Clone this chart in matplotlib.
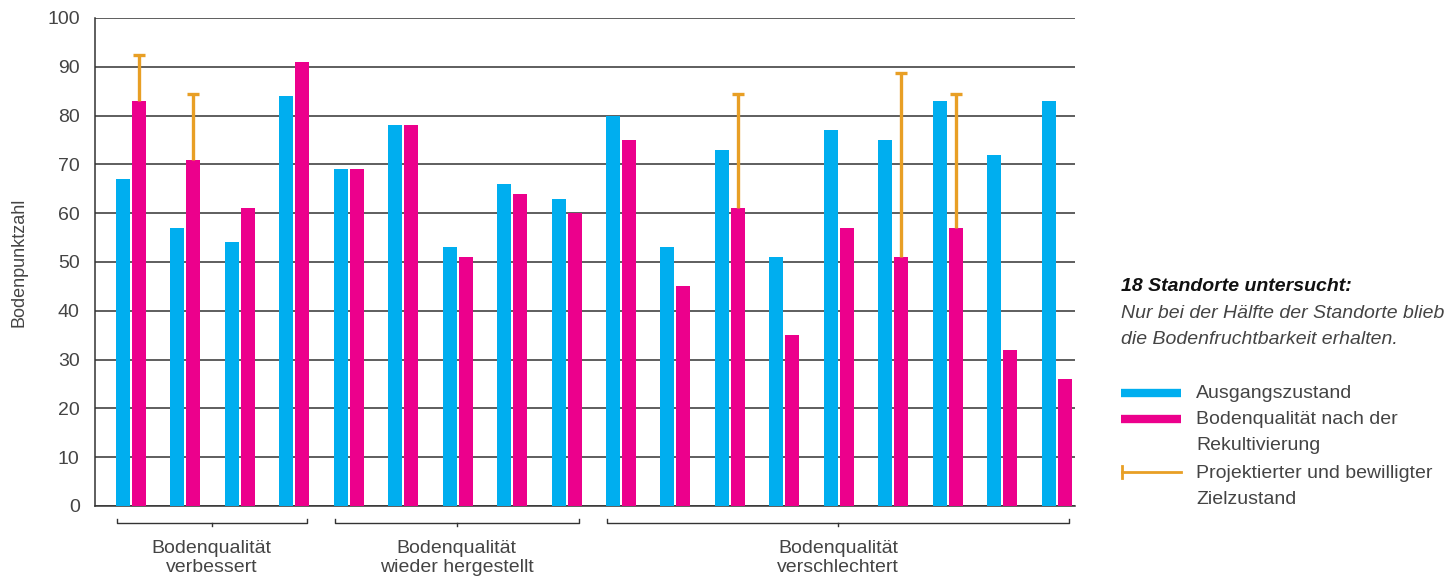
import numpy as np
import matplotlib
matplotlib.use('Agg')
import matplotlib.pyplot as plt
from matplotlib.lines import Line2D

plt.rcParams['font.family'] = ['Liberation Sans', 'DejaVu Sans']

# Ausgangszustand / nach Rekultivierung, 18 Standorte
ausgang = [67, 57, 54, 84, 69, 78, 53, 66, 63, 80, 53, 73, 51, 77, 75, 83, 72, 83]
nachher = [83, 71, 61, 91, 69, 78, 51, 64, 60, 75, 45, 61, 35, 57, 51, 57, 32, 26]
# projektierter Zielzustand (nur wo vorhanden)
ziel_idx = [0, 1, 11, 14, 15]
ziel = [92.5, 84.5, 84.5, 88.8, 84.5]

gruppen = ['Bodenqualität\nverbessert', 'Bodenqualität\nwieder hergestellt', 'Bodenqualität\nverschlechtert']
gruppen_von = [0, 4, 9]
gruppen_bis = [3, 8, 17]

blau = '#00AEEF'
pink = '#EC008C'
orange = '#E89F25'
grau = '#333333'
text_grau = '#444444'

fig = plt.figure(figsize=(14.49, 5.79), dpi=100)
ax = fig.add_axes([95/1449, 73/579, 980/1449, 488/579])

x = np.arange(len(ausgang))
w = 0.257
x_b = x + 0.386 + w/2
x_p = x_b + w + 0.037

ax.bar(x_b, ausgang, w, color=blau, zorder=3)
ax.bar(x_p, nachher, w, color=pink, zorder=3)

# Zielzustand: Linie von der pinken Saeule nach oben mit Kappe
zx = x_p[ziel_idx]
zy = np.array(nachher)[ziel_idx]
ax.vlines(zx, zy, ziel, color=orange, lw=2.4, zorder=4)
ax.hlines(ziel, zx - 0.11, zx + 0.11, color=orange, lw=2.4, zorder=4)

ax.set_xlim(0, 18)
ax.set_ylim(0, 100)
ax.set_yticks(np.arange(0, 101, 10))
ax.set_xticks([])
ax.yaxis.grid(True, color=grau, lw=1.1, zorder=1)
ax.tick_params(axis='y', length=0, pad=11, labelsize=14, labelcolor=text_grau)
for s in ['top', 'right']:
    ax.spines[s].set_visible(False)
for s in ['left', 'bottom']:
    ax.spines[s].set_color(grau)
    ax.spines[s].set_linewidth(1.1)
ax.set_ylabel('Bodenpunktzahl', fontsize=13, color=text_grau, labelpad=14)

# Klammern unter den Gruppen
trans = ax.get_xaxis_transform()
yb = -0.035
for lab, a, b in zip(gruppen, gruppen_von, gruppen_bis):
    x0 = x_b[a] - w/2 + 0.02
    x1 = x_p[b] + w/2 - 0.05
    xm = (x0 + x1) / 2
    ax.plot([x0, x0, x1, x1], [yb + 0.008, yb, yb, yb + 0.008], color=grau, lw=1,
            transform=trans, clip_on=False)
    ax.plot([xm, xm], [yb, yb - 0.007], color=grau, lw=1, transform=trans, clip_on=False)
    ax.text(xm, -0.069, lab, transform=trans, ha='center', va='top', fontsize=14,
            color=text_grau, linespacing=1.17)

# Legende / Text rechts
fx = 1121/1449
fig.text(fx, 1 - 286/579, '18 Standorte untersucht:', fontsize=14, fontweight='bold',
         style='italic', color='#111111', va='center')
fig.text(fx, 1 - 313/579, 'Nur bei der Hälfte der Standorte blieb', fontsize=14,
         style='italic', color=text_grau, va='center')
fig.text(fx, 1 - 339/579, 'die Bodenfruchtbarkeit erhalten.', fontsize=14,
         style='italic', color=text_grau, va='center')

lx0, lx1 = 1121/1449, 1181/1449
tx = 1196/1449
for yy, col in [(393, blau), (419, pink)]:
    fig.add_artist(Line2D([lx0, lx1], [1 - yy/579] * 2, color=col, lw=6, solid_capstyle='butt'))
fig.add_artist(Line2D([lx0 + 0.001, lx1], [1 - 472/579] * 2, color=orange, lw=2))
fig.add_artist(Line2D([lx0 + 0.001] * 2, [1 - 466/579, 1 - 478/579], color=orange, lw=2))
for yy, t in [(393, 'Ausgangszustand'), (419, 'Bodenqualität nach der'),
              (446, 'Rekultivierung'), (473, 'Projektierter und bewilligter'),
              (500, 'Zielzustand')]:
    fig.text(tx, 1 - yy/579, t, fontsize=14, color=text_grau, va='center')

fig.savefig('out.png', dpi=100)
